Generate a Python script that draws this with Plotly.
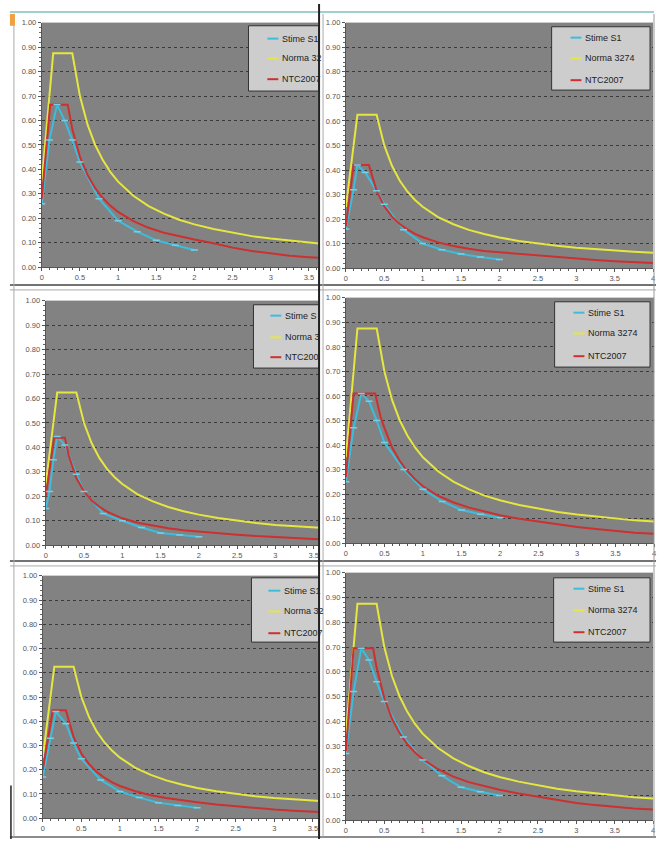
import plotly.graph_objects as go

W, H = 658, 844

# ---------------- data ----------------
NORMA_T = [0, 0.15, 0.4, 0.5, 0.6, 0.7, 0.8, 0.9, 1.0, 1.2, 1.4, 1.6, 1.8, 2.0,
           2.25, 2.5, 2.75, 3.0, 3.25, 3.5, 3.75, 4.0]
NORMA_HIGH_SA = [0.35, 0.875, 0.875, 0.70, 0.583, 0.50, 0.438, 0.389, 0.35, 0.292,
                 0.25, 0.219, 0.194, 0.175, 0.156, 0.14, 0.127, 0.117, 0.108, 0.10,
                 0.093, 0.088]
NORMA_LOW_SA = [0.25, 0.625, 0.625, 0.50, 0.417, 0.357, 0.3125, 0.278, 0.25, 0.208,
                0.179, 0.156, 0.139, 0.125, 0.111, 0.10, 0.091, 0.083, 0.077, 0.071,
                0.067, 0.0625]

NTC_TAIL_T = [0.4, 0.5, 0.6, 0.7, 0.8, 0.9, 1.0, 1.2, 1.4, 1.6, 1.8, 2.0,
              2.25, 2.5, 2.75, 3.0, 3.25, 3.5, 3.75, 4.0]

TL_NTC_T = [0, 0.11, 0.34] + NTC_TAIL_T
TL_NTC_SA = [0.28, 0.665, 0.665, 0.565, 0.452, 0.377, 0.323, 0.283, 0.251, 0.226,
             0.188, 0.161, 0.141, 0.126, 0.113, 0.098, 0.080, 0.066, 0.055, 0.047,
             0.041, 0.035, 0.031]
TR_NTC_T = [0, 0.1, 0.3] + NTC_TAIL_T
TR_NTC_SA = [0.17, 0.42, 0.42, 0.315, 0.252, 0.21, 0.18, 0.158, 0.14, 0.126, 0.105,
             0.09, 0.079, 0.07, 0.065, 0.058, 0.051, 0.045, 0.039, 0.033, 0.028,
             0.024, 0.021]
ML_NTC_T = [0, 0.11, 0.25, 0.3] + NTC_TAIL_T
ML_NTC_SA = [0.2, 0.44, 0.44, 0.367, 0.275, 0.22, 0.183, 0.157, 0.1375, 0.122, 0.11,
             0.092, 0.079, 0.069, 0.061, 0.055, 0.049, 0.043, 0.037, 0.032, 0.028,
             0.025, 0.022, 0.02]
MR_NTC_T = [0, 0.1, 0.38, 0.45, 0.5, 0.6, 0.7, 0.8, 0.9, 1.0, 1.2, 1.4, 1.6, 1.8,
            2.0, 2.25, 2.5, 2.75, 3.0, 3.25, 3.5, 3.75, 4.0]
MR_NTC_SA = [0.27, 0.61, 0.61, 0.515, 0.47, 0.39, 0.335, 0.293, 0.26, 0.232, 0.193,
             0.166, 0.145, 0.129, 0.114, 0.100, 0.088, 0.077, 0.066, 0.058, 0.050,
             0.043, 0.038]
BL_NTC_T = [0, 0.13, 0.3] + NTC_TAIL_T
BL_NTC_SA = [0.2, 0.445, 0.445, 0.334, 0.267, 0.223, 0.191, 0.167, 0.148, 0.133,
             0.111, 0.095, 0.083, 0.074, 0.066, 0.057, 0.049, 0.042, 0.036, 0.031,
             0.027, 0.023, 0.02]
BR_NTC_T = [0, 0.1, 0.355] + NTC_TAIL_T
BR_NTC_SA = [0.28, 0.695, 0.695, 0.617, 0.493, 0.411, 0.352, 0.308, 0.274, 0.247,
             0.206, 0.176, 0.154, 0.137, 0.123, 0.108, 0.095, 0.082, 0.07, 0.061,
             0.053, 0.047, 0.043]

TL_STIME_T = [0, 0.1, 0.2, 0.3, 0.4, 0.5, 0.75, 1.0, 1.25, 1.5, 1.75, 2.0]
TL_STIME_SA = [0.26, 0.52, 0.665, 0.60, 0.52, 0.43, 0.28, 0.19, 0.145, 0.11, 0.09, 0.07]
TR_STIME_T = [0, 0.1, 0.15, 0.25, 0.4, 0.5, 0.75, 1.0, 1.25, 1.5, 1.75, 2.0]
TR_STIME_SA = [0.16, 0.32, 0.42, 0.39, 0.315, 0.26, 0.157, 0.10, 0.075, 0.058, 0.045, 0.035]
ML_STIME_T = [0, 0.05, 0.1, 0.15, 0.25, 0.4, 0.5, 0.75, 1.0, 1.25, 1.5, 1.75, 2.0]
ML_STIME_SA = [0.15, 0.22, 0.35, 0.445, 0.41, 0.29, 0.22, 0.13, 0.10, 0.072, 0.05, 0.042, 0.034]
MR_STIME_T = [0, 0.1, 0.2, 0.3, 0.4, 0.5, 0.75, 1.0, 1.25, 1.5, 1.75, 2.0]
MR_STIME_SA = [0.25, 0.47, 0.61, 0.578, 0.50, 0.41, 0.30, 0.22, 0.17, 0.135, 0.118, 0.104]
BL_STIME_T = [0, 0.1, 0.17, 0.3, 0.4, 0.5, 0.75, 1.0, 1.25, 1.5, 1.75, 2.0]
BL_STIME_SA = [0.17, 0.33, 0.44, 0.39, 0.31, 0.245, 0.158, 0.11, 0.085, 0.064, 0.052, 0.043]
BR_STIME_T = [0, 0.1, 0.2, 0.3, 0.4, 0.5, 0.75, 1.0, 1.25, 1.5, 1.75, 2.0]
BR_STIME_SA = [0.27, 0.52, 0.695, 0.648, 0.56, 0.48, 0.336, 0.243, 0.18, 0.133, 0.115, 0.10]

SERIES_NAMES = ["Stime S1", "Norma 3274", "NTC2007"]
# legend texts as visible (left charts are cut off by the right charts)
TL_LEGEND = ["Stime S1", "Norma 32", "NTC2007"]
ML_LEGEND = ["Stime S", "Norma 3", "NTC200"]
BL_LEGEND = ["Stime S1", "Norma 32", "NTC2007"]
RIGHT_LEGEND = SERIES_NAMES
Y_TICKS = [0, 0.1, 0.2, 0.3, 0.4, 0.5, 0.6, 0.7, 0.8, 0.9, 1.0]
X_TICKS = [0, 0.5, 1, 1.5, 2, 2.5, 3, 3.5, 4]

# ---------------- styling / layout ----------------
BLUE = "#3cbddc"
BLUE_MK = "#74d0e8"
YELLOW = "#e6e640"
RED = "#cc3030"
PLOT_BG = "#828282"
GRID = "#3a3a3a"
FONT = "Liberation Sans, Arial, sans-serif"

panels = [
    dict(px=(40, 318, 19, 266), xmax=3.62, st=(TL_STIME_T, TL_STIME_SA),
         no=(NORMA_T, NORMA_HIGH_SA), nt=(TL_NTC_T, TL_NTC_SA),
         leg=dict(box=(248, 22, 319, 88), rows=(35, 55, 76), lx=(267, 278), tx=280),
         labels=TL_LEGEND),
    dict(px=(346, 655, 19, 267), xmax=4.0, st=(TR_STIME_T, TR_STIME_SA),
         no=(NORMA_T, NORMA_LOW_SA), nt=(TR_NTC_T, TR_NTC_SA),
         leg=dict(box=(553, 23, 652, 87), rows=(34, 55, 77), lx=(572, 583), tx=585),
         labels=RIGHT_LEGEND),
    dict(px=(44, 319, 300, 547), xmax=3.57, st=(ML_STIME_T, ML_STIME_SA),
         no=(NORMA_T, NORMA_LOW_SA), nt=(ML_NTC_T, ML_NTC_SA),
         leg=dict(box=(253, 304, 319, 368), rows=(315, 337, 357), lx=(270, 281), tx=283),
         labels=ML_LEGEND),
    dict(px=(346, 656, 297, 545), xmax=4.0, st=(MR_STIME_T, MR_STIME_SA),
         no=(NORMA_T, NORMA_HIGH_SA), nt=(MR_NTC_T, MR_NTC_SA),
         leg=dict(box=(556, 301, 652, 367), rows=(312, 333, 356), lx=(575, 586), tx=588),
         labels=RIGHT_LEGEND),
    dict(px=(41, 319, 578, 823), xmax=3.58, st=(BL_STIME_T, BL_STIME_SA),
         no=(NORMA_T, NORMA_LOW_SA), nt=(BL_NTC_T, BL_NTC_SA),
         leg=dict(box=(251, 580, 319, 645), rows=(593, 614, 636), lx=(268, 280), tx=282),
         labels=BL_LEGEND),
    dict(px=(346, 655, 575, 825), xmax=4.0, st=(BR_STIME_T, BR_STIME_SA),
         no=(NORMA_T, NORMA_HIGH_SA), nt=(BR_NTC_T, BR_NTC_SA),
         leg=dict(box=(555, 580, 652, 645), rows=(591, 613, 635), lx=(575, 586), tx=588),
         labels=RIGHT_LEGEND),
]


def fx(p):
    return p / W


def fy(p):
    return 1 - p / H


fig = go.Figure()
shapes = []
annotations = []
layout = {}

for i, p in enumerate(panels):
    n = "" if i == 0 else str(i + 1)
    xa, ya = "x" + n, "y" + n
    x0, x1, y0, y1 = p["px"]
    layout["xaxis" + n] = dict(
        domain=[fx(x0), fx(x1)], range=[0, p["xmax"]], anchor=ya,
        tickvals=X_TICKS, ticktext=[("%g" % v) for v in X_TICKS],
        ticks="outside", ticklen=3, tickcolor="#555", showgrid=False,
        showline=True, linecolor="#555", linewidth=1, zeroline=False,
        tickfont=dict(family=FONT, size=7.5, color="#555"),
        minor=dict(dtick=0.1, tick0=0, ticks="outside", ticklen=2, tickcolor="#555"),
        fixedrange=True,
    )
    layout["yaxis" + n] = dict(
        domain=[fy(y1), fy(y0)], range=[0, 1.0], anchor=xa,
        tickvals=Y_TICKS, ticktext=["%.2f" % v for v in Y_TICKS],
        ticks="outside", ticklen=3, tickcolor="#555",
        showgrid=True, gridcolor=GRID, griddash="dot", gridwidth=1,
        showline=True, linecolor="#555", linewidth=1, zeroline=False,
        tickfont=dict(family=FONT, size=7.5, color="#555"),
        minor=dict(dtick=0.02, tick0=0, ticks="outside", ticklen=2, tickcolor="#666",
                   showgrid=False),
        fixedrange=True,
    )
    shapes.append(dict(type="rect", xref=xa + " domain", yref=ya + " domain",
                       x0=0, x1=1, y0=0, y1=1, fillcolor=PLOT_BG, line_width=0,
                       layer="below"))

    st_t, st_s = p["st"]
    no_t, no_s = p["no"]
    nt_t, nt_s = p["nt"]
    fig.add_trace(go.Scatter(x=st_t, y=st_s, mode="lines", name=SERIES_NAMES[0],
                             line=dict(color=BLUE, width=2), xaxis=xa, yaxis=ya,
                             showlegend=False))
    fig.add_trace(go.Scatter(x=no_t, y=no_s, mode="lines", name=SERIES_NAMES[1],
                             line=dict(color=YELLOW, width=2), xaxis=xa, yaxis=ya,
                             showlegend=False))
    fig.add_trace(go.Scatter(x=nt_t, y=nt_s, mode="lines", name=SERIES_NAMES[2],
                             line=dict(color=RED, width=2), xaxis=xa, yaxis=ya,
                             showlegend=False))
    fig.add_trace(go.Scatter(x=st_t, y=st_s, mode="markers", name=SERIES_NAMES[0],
                             marker=dict(symbol="line-ew", size=5,
                                         line=dict(color=BLUE_MK, width=1.5)),
                             xaxis=xa, yaxis=ya, showlegend=False))

    lg = p["leg"]
    bx0, by0, bx1, by1 = lg["box"]
    shapes.append(dict(type="rect", xref="paper", yref="paper",
                       x0=fx(bx0), x1=fx(bx1), y0=fy(by1), y1=fy(by0),
                       fillcolor="#cdcdcd", line=dict(color="#333", width=1),
                       layer="above"))
    for color, ry, label in zip([BLUE, YELLOW, RED], lg["rows"], p["labels"]):
        shapes.append(dict(type="line", xref="paper", yref="paper",
                           x0=fx(lg["lx"][0]), x1=fx(lg["lx"][1]),
                           y0=fy(ry), y1=fy(ry), line=dict(color=color, width=2),
                           layer="above"))
        annotations.append(dict(xref="paper", yref="paper", x=fx(lg["tx"]), y=fy(ry),
                                text=label, showarrow=False, xanchor="left",
                                yanchor="middle",
                                font=dict(family=FONT, size=9, color="#222")))


def hline(y, x0, x1, color, w):
    shapes.append(dict(type="line", xref="paper", yref="paper", x0=fx(x0), x1=fx(x1),
                       y0=fy(y), y1=fy(y), line=dict(color=color, width=w),
                       layer="above"))


def vline(x, y0, y1, color, w):
    shapes.append(dict(type="line", xref="paper", yref="paper", x0=fx(x), x1=fx(x),
                       y0=fy(y0), y1=fy(y1), line=dict(color=color, width=w),
                       layer="above"))


hline(8, 8, 656, "#9fd0d0", 2)
hline(284, 8, 658, "#444", 1.5)
hline(289, 8, 658, "#aaa", 1)
hline(563, 8, 658, "#444", 1.5)
hline(568, 8, 658, "#aaa", 1)
hline(842, 8, 658, "#666", 1.5)
vline(319, 0, 844, "#222", 2)
vline(323, 10, 842, "#aaa", 1)
vline(12, 10, 842, "#aaa", 1)
vline(656, 10, 842, "#999", 1)
vline(9, 790, 844, "#222", 1.5)
shapes.append(dict(type="rect", xref="paper", yref="paper", x0=fx(8), x1=fx(13),
                   y0=fy(22), y1=fy(10), fillcolor="#f0a040", line_width=0,
                   layer="above"))

fig.update_layout(
    width=W, height=H, margin=dict(l=0, r=0, t=0, b=0),
    paper_bgcolor="white", plot_bgcolor=PLOT_BG, showlegend=False,
    shapes=shapes, annotations=annotations, **layout,
)

fig.write_html("out.html")
